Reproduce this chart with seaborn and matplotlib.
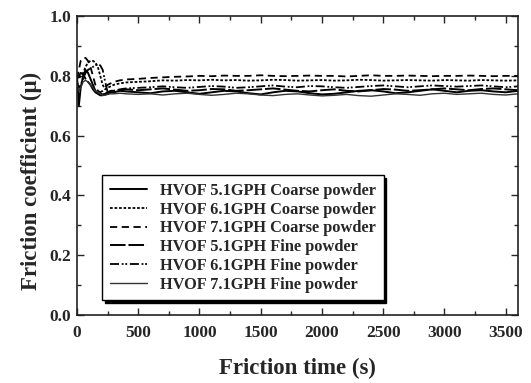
import matplotlib
matplotlib.use("Agg")
import matplotlib.pyplot as plt
import seaborn as sns
import pandas as pd
from matplotlib.ticker import MultipleLocator

sns.set_style("ticks")
plt.rcParams['font.family'] = ['Liberation Serif', 'DejaVu Serif']
plt.rcParams['font.weight'] = 'bold'

time_s = [0, 15, 30, 50, 70, 90, 110, 130, 150, 170, 190, 210, 230, 250, 275, 300, 350,
          400, 500, 600, 700, 800, 900, 1000, 1100, 1200, 1300, 1400, 1500, 1600, 1700,
          1800, 1900, 2000, 2100, 2200, 2300, 2400, 2500, 2600, 2700, 2800, 2900, 3000,
          3100, 3200, 3300, 3400, 3500, 3600]

labels = ["HVOF 5.1GPH Coarse powder", "HVOF 6.1GPH Coarse powder",
          "HVOF 7.1GPH Coarse powder", "HVOF 5.1GPH Fine powder",
          "HVOF 6.1GPH Fine powder", "HVOF 7.1GPH Fine powder"]

coarse_51 = [0.80, 0.70, 0.76, 0.80, 0.82, 0.81, 0.79, 0.77, 0.75, 0.74, 0.735, 0.735, 0.74, 0.74, 0.745, 0.745, 0.75,
             0.748, 0.745, 0.742, 0.748, 0.75, 0.745, 0.74, 0.745, 0.75, 0.748, 0.742, 0.738, 0.745, 0.75,
             0.748, 0.742, 0.738, 0.74, 0.745, 0.75, 0.752, 0.748, 0.742, 0.745, 0.75, 0.755, 0.75,
             0.745, 0.75, 0.752, 0.748, 0.745, 0.75]
coarse_61 = [0.80, 0.79, 0.80, 0.81, 0.83, 0.845, 0.85, 0.85, 0.845, 0.83, 0.80, 0.77, 0.755, 0.76, 0.765, 0.77, 0.775,
             0.778, 0.78, 0.782, 0.785, 0.784, 0.786, 0.785, 0.787, 0.785, 0.786, 0.784, 0.785, 0.787, 0.786,
             0.784, 0.785, 0.786, 0.784, 0.785, 0.787, 0.786, 0.784, 0.785, 0.786, 0.785, 0.784, 0.786,
             0.785, 0.784, 0.786, 0.785, 0.784, 0.785]
coarse_71 = [0.79, 0.82, 0.85, 0.86, 0.86, 0.85, 0.83, 0.80, 0.77, 0.75, 0.745, 0.75, 0.76, 0.77, 0.775, 0.78, 0.785,
             0.788, 0.79, 0.793, 0.795, 0.797, 0.798, 0.80, 0.799, 0.801, 0.80, 0.80, 0.802, 0.80, 0.799,
             0.80, 0.801, 0.80, 0.80, 0.798, 0.80, 0.802, 0.80, 0.80, 0.801, 0.80, 0.799, 0.80,
             0.80, 0.801, 0.80, 0.799, 0.80, 0.80]
fine_51 = [0.79, 0.80, 0.81, 0.805, 0.79, 0.78, 0.77, 0.755, 0.745, 0.74, 0.74, 0.738, 0.74, 0.745, 0.75, 0.75, 0.752,
           0.755, 0.752, 0.755, 0.758, 0.754, 0.75, 0.752, 0.756, 0.755, 0.75, 0.752, 0.755, 0.758, 0.754,
           0.75, 0.748, 0.752, 0.755, 0.75, 0.748, 0.752, 0.756, 0.754, 0.75, 0.752, 0.755, 0.758,
           0.755, 0.752, 0.756, 0.758, 0.755, 0.752]
fine_61 = [0.78, 0.76, 0.77, 0.79, 0.81, 0.82, 0.825, 0.83, 0.835, 0.84, 0.835, 0.82, 0.78, 0.745, 0.745, 0.75, 0.755,
           0.758, 0.76, 0.762, 0.765, 0.762, 0.76, 0.763, 0.766, 0.764, 0.76, 0.762, 0.765, 0.768, 0.764,
           0.762, 0.766, 0.765, 0.762, 0.76, 0.763, 0.766, 0.768, 0.765, 0.762, 0.765, 0.768, 0.766,
           0.764, 0.766, 0.768, 0.765, 0.762, 0.765]
fine_71 = [0.77, 0.75, 0.76, 0.78, 0.785, 0.78, 0.77, 0.76, 0.75, 0.745, 0.74, 0.735, 0.735, 0.738, 0.74, 0.74, 0.742,
           0.74, 0.738, 0.74, 0.736, 0.74, 0.742, 0.738, 0.735, 0.738, 0.742, 0.74, 0.736, 0.734, 0.738,
           0.74, 0.736, 0.733, 0.735, 0.738, 0.734, 0.732, 0.736, 0.74, 0.738, 0.735, 0.74, 0.742,
           0.738, 0.74, 0.742, 0.738, 0.736, 0.74]

series = [coarse_51, coarse_61, coarse_71, fine_51, fine_61, fine_71]
styles = ['-', (0, (1.5, 1)), (0, (4, 2.5)), (0, (8, 1.5)), (0, (5, 1.5, 1, 1, 1, 1.5)), '-']
widths = [1.4, 1.3, 1.3, 1.4, 1.3, 1.0]
colors = ['black', 'black', 'black', 'black', 'black', '#333333']

fig = plt.figure(figsize=(5.31, 3.83), dpi=100)
ax = fig.add_axes([0.145, 0.1775, 0.8305, 0.7805])

for lab, vals, ls, lw, c in zip(labels, series, styles, widths, colors):
    df = pd.DataFrame({"t": time_s, "mu": vals})
    sns.lineplot(data=df, x="t", y="mu", ax=ax, label=lab, color=c, linestyle=ls, linewidth=lw)

ax.set_xlim(0, 3600)
ax.set_ylim(0.0, 1.0)
ax.xaxis.set_major_locator(MultipleLocator(500))
ax.xaxis.set_minor_locator(MultipleLocator(250))
ax.yaxis.set_major_locator(MultipleLocator(0.2))
ax.yaxis.set_minor_locator(MultipleLocator(0.1))
ax.yaxis.set_major_formatter(matplotlib.ticker.FormatStrFormatter('%.1f'))
ax.tick_params(which='both', direction='in', top=True, right=True, labelsize=12.5)
ax.tick_params(axis='x', pad=7)
ax.tick_params(axis='y', pad=4)
ax.tick_params(which='major', length=5, width=1)
ax.tick_params(which='minor', length=3, width=1)
for s in ax.spines.values():
    s.set_linewidth(1.2)
    s.set_color('#222222')

ax.set_xlabel("Friction time (s)", fontsize=16.5, fontweight='bold')
ax.set_ylabel("Friction coefficient (\u03bc)", fontsize=16.5, fontweight='bold')
ax.xaxis.set_label_coords(0.5, -0.145)
ax.yaxis.set_label_coords(-0.08, 0.45)

leg = ax.legend(loc='lower left', bbox_to_anchor=(0.057, 0.05), fancybox=False,
                shadow={'color': 'black', 'alpha': 1.0},
                edgecolor='black', framealpha=1, fontsize=11.8, handlelength=2.3,
                handletextpad=0.8, labelspacing=0.17, borderpad=0.45, borderaxespad=0)
leg.get_frame().set_linewidth(1.0)

fig.savefig("out.png", dpi=100)
